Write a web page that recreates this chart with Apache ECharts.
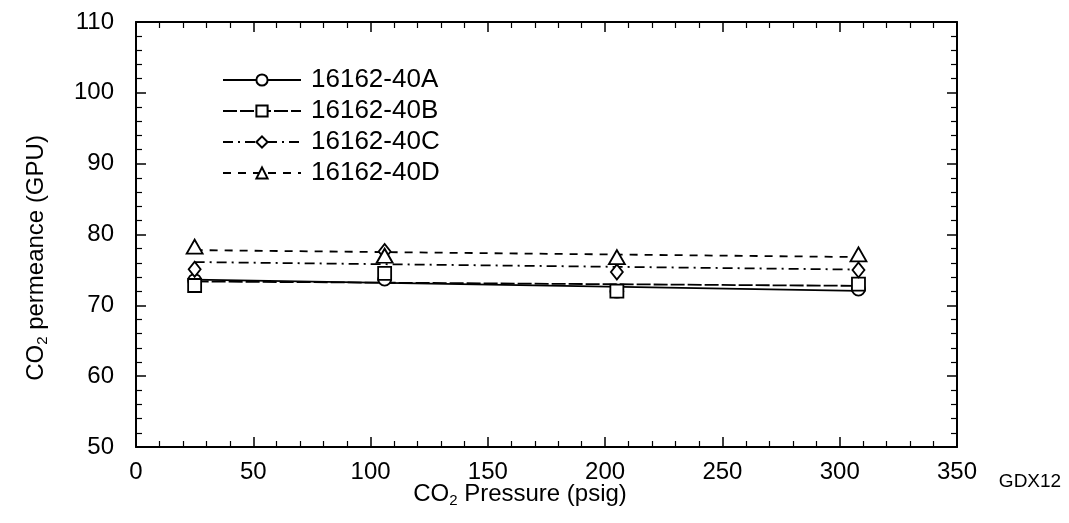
<!DOCTYPE html>
<html><head><meta charset="utf-8">
<script src="https://cdn.jsdelivr.net/npm/echarts@6/dist/echarts.min.js"></script>
<style>html,body{margin:0;padding:0;background:#fff}#c{width:1069px;height:523px}</style>
</head><body><div id="c"></div>
<script>
// ---- data ----
const seriesNames = ['16162-40A', '16162-40B', '16162-40C', '16162-40D'];
const pressure = [25, 106, 205, 308];
const perm40A = [73.5, 73.7, 72.0, 72.3];
const perm40B = [72.8, 74.5, 72.0, 73.0];
const perm40C = [75.1, 77.6, 74.7, 75.0];
const perm40D = [78.3, 77.0, 76.8, 77.2];
const xTickMin = 0, xTickMax = 350, xTickStep = 50;
const yTickMin = 50, yTickMax = 110, yTickStep = 10;

const FONT = '"Liberation Sans", Arial, Helvetica, sans-serif';
const allValues = [perm40A, perm40B, perm40C, perm40D];
const symbols = ['circle', 'rect', 'diamond', 'triangle'];
const symbolSizes = [13, 13, [12, 15], [16, 14]];
const lineTypes = ['solid', [14, 3], [10, 5, 2, 5], [8, 7]];

function fit(xs, ys) {
  const n = xs.length;
  const mx = xs.reduce((a, b) => a + b, 0) / n;
  const my = ys.reduce((a, b) => a + b, 0) / n;
  let sxy = 0, sxx = 0;
  for (let i = 0; i < n; i++) { sxy += (xs[i] - mx) * (ys[i] - my); sxx += (xs[i] - mx) ** 2; }
  const b = sxy / sxx, a = my - b * mx;
  const x0 = xs[0], x1 = xs[n - 1];
  return [[x0, a + b * x0], [x1, a + b * x1]];
}

const series = [];
seriesNames.forEach((name, i) => {
  series.push({
    name: name, type: 'line', data: fit(pressure, allValues[i]),
    symbol: symbols[i], symbolSize: symbolSizes[i], showSymbol: false,
    lineStyle: { color: '#000', width: 1.8, type: lineTypes[i] },
    itemStyle: { color: '#fff', borderColor: '#000', borderWidth: 1.8 },
    silent: true, animation: false, z: 2
  });
});
seriesNames.forEach((name, i) => {
  series.push({
    name: name + ' data', type: 'scatter',
    data: pressure.map((x, j) => [x, allValues[i][j]]),
    symbol: symbols[i], symbolSize: symbolSizes[i],
    itemStyle: { color: '#fff', borderColor: '#000', borderWidth: 1.8, opacity: 1 },
    animation: false, z: 3 + i
  });
});

const axisCommon = {
  type: 'value',
  axisLine: { show: true, onZero: false, lineStyle: { color: '#000', width: 2 } },
  axisTick: { show: true, inside: true, length: 10, lineStyle: { color: '#000', width: 1.5 } },
  minorTick: { show: true, splitNumber: 5, length: 6, lineStyle: { color: '#000', width: 1.2 } },
  splitLine: { show: false }
};

const option = {
  backgroundColor: '#fff',
  animation: false,
  grid: { left: 136, right: 112, top: 22, bottom: 76 },
  legend: {
    data: seriesNames, orient: 'vertical', left: 217, top: 62,
    itemWidth: 78, itemHeight: 14, itemGap: 5,
    textStyle: { fontFamily: FONT, fontSize: 26, color: '#000', lineHeight: 26, padding: [0, 0, 0, 5] },
    selectedMode: false
  },
  xAxis: [
    Object.assign({}, axisCommon, {
      min: xTickMin, max: xTickMax, interval: xTickStep, position: 'bottom',
      axisLabel: { fontFamily: FONT, fontSize: 24, color: '#000', margin: 13 }
    }),
    Object.assign({}, axisCommon, {
      min: xTickMin, max: xTickMax, interval: xTickStep, position: 'top',
      axisLabel: { show: false }
    })
  ],
  yAxis: [
    Object.assign({}, axisCommon, {
      min: yTickMin, max: yTickMax, interval: yTickStep, position: 'left',
      axisLabel: { fontFamily: FONT, fontSize: 24, color: '#000', margin: 22 }
    }),
    Object.assign({}, axisCommon, {
      min: yTickMin, max: yTickMax, interval: yTickStep, position: 'right',
      axisLabel: { show: false }
    })
  ],
  graphic: [
    {
      type: 'text', x: 520, y: 494,
      style: {
        text: '{a|CO}{s|2}{a| Pressure (psig)}', align: 'center', verticalAlign: 'middle',
        rich: { a: { fontFamily: FONT, fontSize: 24, fill: '#000' }, s: { fontFamily: FONT, fontSize: 15, fill: '#000', padding: [14, 0, 0, 0] } }
      }
    },
    {
      type: 'text', x: 36, y: 258, rotation: Math.PI / 2,
      style: {
        text: '{a|CO}{s|2}{a| permeance (GPU)}', align: 'center', verticalAlign: 'middle',
        rich: { a: { fontFamily: FONT, fontSize: 24, fill: '#000' }, s: { fontFamily: FONT, fontSize: 15, fill: '#000', padding: [14, 0, 0, 0] } }
      }
    },
    {
      type: 'text', x: 1030, y: 482,
      style: { text: 'GDX12', align: 'center', verticalAlign: 'middle', fontFamily: FONT, fontSize: 19, fill: '#000' }
    }
  ],
  series: series
};
const chart = echarts.init(document.getElementById('c'), null, { renderer: 'canvas' });
chart.setOption(option);
</script></body></html>
